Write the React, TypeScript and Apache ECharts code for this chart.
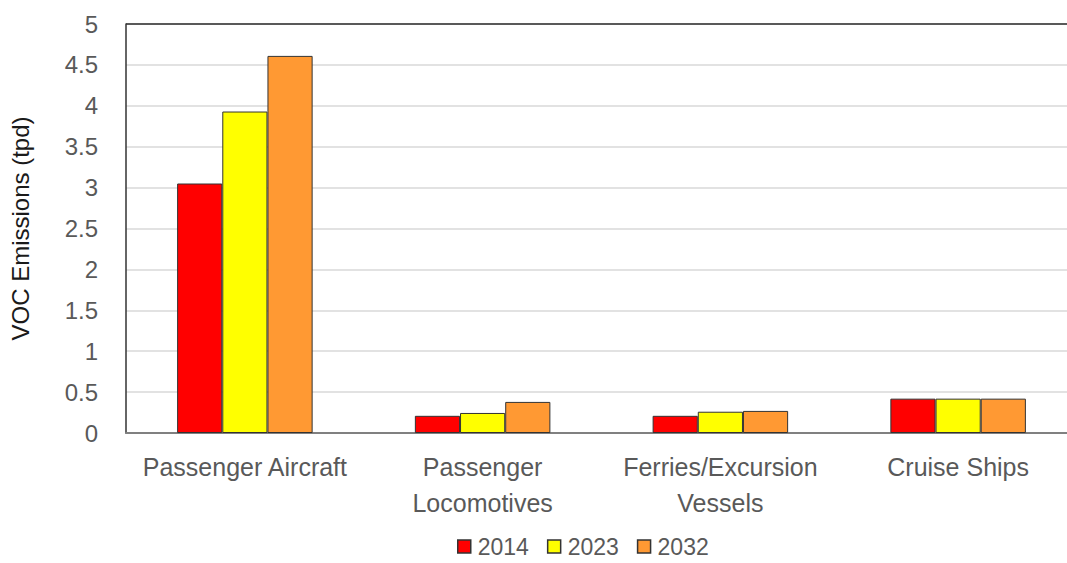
import React, { useEffect, useRef } from "react";
import * as echarts from "echarts";

const categories = ["Passenger Aircraft", "Passenger\nLocomotives", "Ferries/Excursion\nVessels", "Cruise Ships"];
const seriesNames = ["2014", "2023", "2032"];
const values2014 = [3.05, 0.21, 0.21, 0.42];
const values2023 = [3.93, 0.245, 0.26, 0.42];
const values2032 = [4.61, 0.38, 0.27, 0.42];
const colors = ["#ff0000", "#ffff00", "#ff9933"];

export default function App() {
  const ref = useRef<HTMLDivElement>(null);
  useEffect(() => {
    if (!ref.current) return;
    const chart = echarts.init(ref.current, undefined, { renderer: "svg" });
    const font = "'Liberation Sans', Arial, sans-serif";
    const data = [values2014, values2023, values2032];
    const splitColors = Array(10).fill("#d9d9d9").concat(["#222222"]);
    chart.setOption({
      animation: false,
      backgroundColor: "#ffffff",
      textStyle: { fontFamily: font },
      grid: { left: 126, top: 24, width: 951, bottom: 130, containLabel: false, outerBoundsMode: "none" },
      legend: {
        bottom: 0,
        left: 452,
        icon: "rect",
        itemWidth: 13,
        itemHeight: 13,
        itemGap: 18,
        data: seriesNames,
        itemStyle: { borderColor: "#333333", borderWidth: 1.5 },
        textStyle: { fontSize: 23, color: "#595959", fontFamily: font, padding: [0, 0, 0, 2] },
      },
      xAxis: {
        type: "category",
        data: categories,
        axisTick: { show: false },
        axisLine: { lineStyle: { color: "#808080", width: 2 } },
        axisLabel: { fontSize: 25, color: "#595959", margin: 16, lineHeight: 36, interval: 0 },
      },
      yAxis: {
        type: "value",
        min: 0,
        max: 5,
        interval: 0.5,
        name: "VOC Emissions (tpd)",
        nameLocation: "middle",
        nameGap: 94,
        nameTextStyle: { fontSize: 24, color: "#1a1a1a" },
        axisLine: { show: true, lineStyle: { color: "#333333", width: 1.5 } },
        axisTick: { show: false },
        axisLabel: { fontSize: 24, color: "#595959", margin: 28 },
        splitLine: { lineStyle: { color: splitColors, width: 1.5 } },
      },
      series: seriesNames.map((name, i) => ({
        name,
        type: "bar",
        data: data[i],
        barWidth: "19%",
        barGap: "0%",
        itemStyle: { color: colors[i], borderColor: "#333333", borderWidth: 1 },
      })),
    });
    return () => chart.dispose();
  }, []);
  return <div ref={ref} style={{ position: "fixed", left: 0, top: 0, width: 1067, height: 563 }} />;
}
